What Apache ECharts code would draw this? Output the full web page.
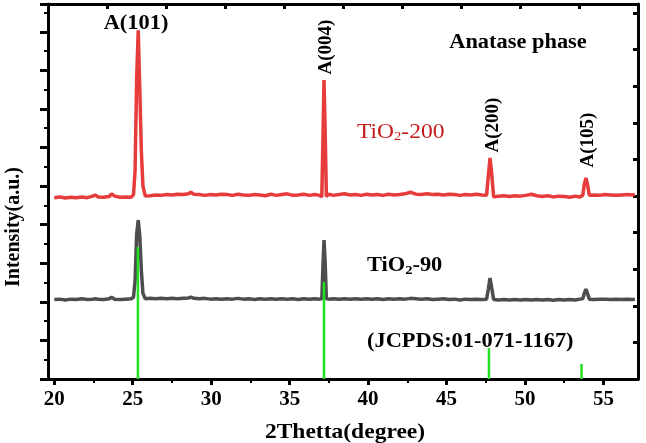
<!DOCTYPE html>
<html>
<head>
<meta charset="utf-8">
<script src="https://cdn.jsdelivr.net/npm/echarts@6/dist/echarts.min.js"></script>
<style>
  html, body { margin: 0; padding: 0; background: #fff; }
  #main { width: 646px; height: 443px; }
</style>
</head>
<body>
<div id="main"></div>
<script>
// 2theta sampling (deg), shared by both patterns
var twoTheta = [
  20.0, 20.35, 20.7, 21.05, 21.4, 21.75, 22.1, 22.45, 22.6, 22.8,
  23.15, 23.5, 23.65, 23.85, 24.2, 24.55, 24.9, 25.05, 25.15, 25.25,
  25.35, 25.45, 25.55, 25.65, 25.8, 26.1, 26.45, 26.8, 27.15, 27.5,
  27.85, 28.2, 28.55, 28.7, 28.9, 29.25, 29.6, 29.95, 30.3, 30.65,
  31.0, 31.35, 31.7, 32.05, 32.4, 32.75, 33.1, 33.45, 33.8, 34.15,
  34.5, 34.85, 35.2, 35.55, 35.9, 36.25, 36.6, 36.9, 37.05, 37.13,
  37.19, 37.26, 37.34, 37.5, 37.8, 38.15, 38.5, 38.85, 39.2, 39.55,
  39.9, 40.25, 40.6, 40.95, 41.3, 41.65, 42.0, 42.35, 42.7, 43.05,
  43.4, 43.75, 44.1, 44.45, 44.8, 45.15, 45.5, 45.85, 46.2, 46.55,
  46.9, 47.25, 47.55, 47.67, 47.77, 47.87, 48.0, 48.3, 48.65, 49.0,
  49.35, 49.7, 50.05, 50.4, 50.75, 51.1, 51.45, 51.8, 52.15, 52.5,
  52.85, 53.2, 53.5, 53.68, 53.78, 53.88, 53.98, 54.1, 54.4, 54.75,
  55.1, 55.45, 55.8, 56.15, 56.5, 56.85, 57.0
];

// TiO2-200 (offset intensity, a.u.)
var tio2_200 = [
  4.70, 4.72, 4.69, 4.71, 4.70, 4.72, 4.70, 4.74, 4.77, 4.72,
  4.71, 4.73, 4.80, 4.74, 4.71, 4.72, 4.71, 4.78, 5.40, 7.80,
  9.04, 7.50, 5.90, 5.00, 4.74, 4.75, 4.77, 4.76, 4.78, 4.77,
  4.79, 4.78, 4.80, 4.84, 4.79, 4.78, 4.76, 4.78, 4.77, 4.79,
  4.78, 4.76, 4.79, 4.77, 4.76, 4.78, 4.77, 4.75, 4.79, 4.76,
  4.78, 4.80, 4.76, 4.77, 4.79, 4.76, 4.78, 4.76, 4.72, 6.40,
  7.75, 6.50, 4.73, 4.79, 4.76, 4.78, 4.80, 4.77, 4.78, 4.76,
  4.79, 4.77, 4.78, 4.76, 4.79, 4.77, 4.78, 4.80, 4.84, 4.79,
  4.78, 4.80, 4.78, 4.79, 4.77, 4.79, 4.78, 4.76, 4.78, 4.77,
  4.79, 4.77, 4.76, 5.30, 5.73, 5.35, 4.72, 4.74, 4.75, 4.73,
  4.75, 4.74, 4.76, 4.79, 4.75, 4.73, 4.75, 4.72, 4.74, 4.73,
  4.71, 4.74, 4.72, 4.76, 5.05, 5.21, 5.05, 4.76, 4.77, 4.76,
  4.78, 4.77, 4.76, 4.77, 4.78, 4.77, 4.78
];

// TiO2-90
var tio2_90 = [
  2.06, 2.07, 2.05, 2.07, 2.06, 2.08, 2.06, 2.07, 2.08, 2.07,
  2.06, 2.08, 2.12, 2.07, 2.06, 2.07, 2.08, 2.12, 2.55, 3.75,
  4.12, 3.70, 2.80, 2.22, 2.08, 2.09, 2.08, 2.09, 2.08, 2.09,
  2.08, 2.09, 2.10, 2.12, 2.09, 2.08, 2.09, 2.07, 2.08, 2.07,
  2.08, 2.07, 2.09, 2.07, 2.08, 2.06, 2.08, 2.07, 2.08, 2.07,
  2.08, 2.07, 2.08, 2.06, 2.08, 2.07, 2.08, 2.07, 2.08, 3.00,
  3.60, 3.05, 2.08, 2.07, 2.08, 2.07, 2.08, 2.07, 2.08, 2.07,
  2.08, 2.07, 2.08, 2.06, 2.08, 2.07, 2.08, 2.07, 2.09, 2.08,
  2.07, 2.08, 2.06, 2.07, 2.08, 2.06, 2.07, 2.05, 2.07, 2.06,
  2.07, 2.06, 2.07, 2.35, 2.62, 2.38, 2.06, 2.05, 2.06, 2.05,
  2.06, 2.05, 2.06, 2.05, 2.06, 2.05, 2.06, 2.04, 2.06, 2.05,
  2.06, 2.05, 2.07, 2.08, 2.22, 2.33, 2.22, 2.07, 2.06, 2.07,
  2.07, 2.06, 2.07, 2.06, 2.07, 2.06, 2.07
];

// JCPDS 01-071-1167 reference sticks
var jcpdsPos = [25.33, 37.19, 47.7, 53.6];
var jcpdsInt = [3.42, 2.51, 0.80, 0.39];

var xMajorTicks = [20, 25, 30, 35, 40, 45, 50, 55];
var xMinorTicks = [22.5, 27.5, 32.5, 37.5, 42.5, 47.5, 52.5];

function zip(xs, ys) {
  var out = [];
  for (var i = 0; i < xs.length; i++) out.push([xs[i], ys[i]]);
  return out;
}

var serif = 'Liberation Serif';
var ink = '#000';

function label(text, x, y, opts) {
  opts = opts || {};
  return {
    type: 'text',
    x: x,
    y: y,
    rotation: opts.rotate ? Math.PI / 2 : 0,
    scaleX: opts.rotate ? 1 : (opts.sx || 1.12),
    z: 100,
    style: {
      text: text,
      fill: opts.color || ink,
      fontFamily: serif,
      fontWeight: opts.weight || 'bold',
      fontSize: opts.size || 20,
      align: opts.align || 'center',
      verticalAlign: 'middle',
      rich: opts.rich
    }
  };
}

function subRich(color, weight) {
  return {
    s: { fontFamily: serif, fontSize: 13, fontWeight: weight, fill: color, padding: [9, 0, 0, 0] }
  };
}

var chart = echarts.init(document.getElementById('main'));

var option = {
  animation: false,
  backgroundColor: '#fff',
  grid: [
    { left: 48, right: 8, top: 4, bottom: 64 },
    { left: 48, right: 8, top: 4, bottom: 64 }
  ],
  xAxis: [
    {
      type: 'value', gridIndex: 0, position: 'bottom',
      min: 19.6, max: 57.2,
      axisLine: { onZero: false, lineStyle: { color: ink, width: 3 } },
      axisTick: { customValues: xMajorTicks, length: 6, lineStyle: { color: ink, width: 3 } },
      axisLabel: {
        customValues: xMajorTicks, margin: 10,
        color: ink, fontFamily: serif, fontWeight: 'bold', fontSize: 21
      },
      splitLine: { show: false }
    },
    {
      type: 'value', gridIndex: 0, position: 'top',
      min: 0, max: 10, interval: 1,
      axisLine: { onZero: false, lineStyle: { color: ink, width: 3 } },
      axisTick: { inside: true, length: 5, lineStyle: { color: ink, width: 3 } },
      axisLabel: { show: false },
      splitLine: { show: false }
    },
    {
      type: 'value', gridIndex: 1, position: 'bottom',
      min: 19.6, max: 57.2,
      axisLine: { show: false, onZero: false },
      axisTick: { customValues: xMinorTicks, length: 4, lineStyle: { color: ink, width: 2 } },
      axisLabel: { show: false },
      splitLine: { show: false }
    }
  ],
  yAxis: [
    {
      type: 'value', gridIndex: 0, position: 'left',
      min: 0, max: 9.72, interval: 1,
      axisLine: { show: true, onZero: false, lineStyle: { color: ink, width: 3 } },
      axisTick: { show: true, length: 8, lineStyle: { color: ink, width: 3 } },
      minorTick: { show: true, splitNumber: 2, length: 4, lineStyle: { color: ink, width: 2 } },
      axisLabel: { show: false },
      splitLine: { show: false }
    },
    {
      type: 'value', gridIndex: 0, position: 'right',
      min: 0, max: 10.25, interval: 1,
      axisLine: { show: true, onZero: false, lineStyle: { color: ink, width: 3 } },
      axisTick: { show: true, inside: true, length: 5, lineStyle: { color: ink, width: 3 } },
      axisLabel: { show: false },
      splitLine: { show: false }
    },
    {
      type: 'value', gridIndex: 1, show: false, min: 0, max: 10
    }
  ],
  series: [
    {
      name: 'TiO2-200', type: 'line', xAxisIndex: 0, yAxisIndex: 0,
      data: zip(twoTheta, tio2_200),
      showSymbol: false,
      lineStyle: { color: '#e63c3c', width: 3.5 }
    },
    {
      name: 'TiO2-90', type: 'line', xAxisIndex: 0, yAxisIndex: 0,
      data: zip(twoTheta, tio2_90),
      showSymbol: false,
      lineStyle: { color: '#4d4d4d', width: 3.5 }
    },
    {
      name: 'JCPDS', type: 'bar', xAxisIndex: 0, yAxisIndex: 0,
      data: zip(jcpdsPos, jcpdsInt),
      barWidth: 2.5,
      itemStyle: { color: '#22e022' },
      z: 5
    }
  ],
  graphic: [
    label('A(101)', 136, 24),
    label('A(004)', 326, 47, { rotate: true, size: 19 }),
    label('A(200)', 493, 125, { rotate: true, size: 19 }),
    label('A(105)', 588, 140, { rotate: true, size: 19 }),
    label('Anatase phase', 518, 43),
    label('TiO{s|2}-200', 357, 132, { align: 'left', weight: 'normal', color: '#c41a1a', size: 21, rich: subRich('#c41a1a', 'normal') }),
    label('TiO{s|2}-90', 367, 266, { align: 'left', rich: subRich(ink, 'bold') }),
    label('(JCPDS:01-071-1167)', 367, 342, { align: 'left' }),
    label('2Thetta(degree)', 345, 433, { size: 21 }),
    label('Intensity(a.u.)', 14, 227, { rotate: true, size: 20 })
  ]
};

chart.setOption(option);
</script>
</body>
</html>
